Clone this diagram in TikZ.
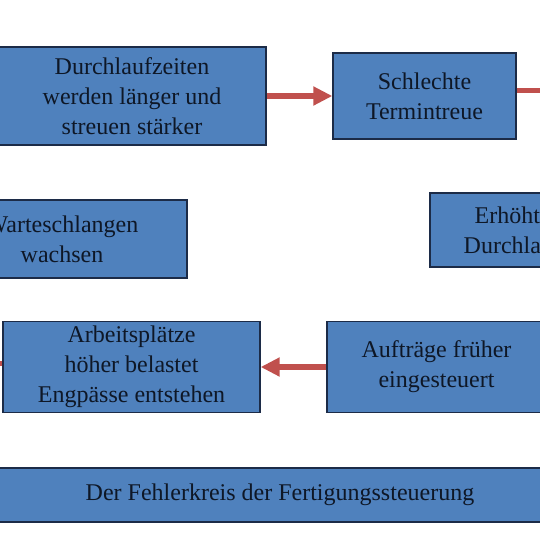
\documentclass[tikz,border=0pt]{standalone}
\usepackage{fontspec}
\setmainfont{Liberation Serif}
\usepackage{tikz}
\usetikzlibrary{arrows.meta}
\definecolor{boxblue}{HTML}{4F81BD}
\definecolor{boxline}{HTML}{1C2B47}
\definecolor{boxtext}{HTML}{0E1726}
\definecolor{flowred}{HTML}{C0504D}

\begin{document}
\begin{tikzpicture}[x=1pt, y=-1pt,
  box/.style={rectangle, draw=boxline, line width=1.3pt, fill=boxblue, text=boxtext,
    inner sep=0pt, align=center, font=\fontsize{24}{30}\selectfont},
  flow/.style={flowred, line width=5.5pt, -{Triangle[length=19pt, width=18pt]}},
  flowline/.style={flowred, line width=5pt}]
\useasboundingbox (0,0) rectangle (540,541);
\clip (0,0) rectangle (540,541);
\node[box, minimum width=268pt, minimum height=98pt] (zeiten) at (132,96) {Durchlaufzeiten\\werden länger und\\streuen stärker};
\node[box, minimum width=183pt, minimum height=86pt] (termin) at (424.5,96) {Schlechte\\Termintreue};
\node[box, minimum width=250pt, minimum height=78pt] (warte) at (62,239) {Warteschlangen\\wachsen};
\node[box, minimum width=222pt, minimum height=74pt] (plan) at (541,230) {Erhöhte Plan-\\Durchlaufzeiten};
\node[box, minimum width=219pt, minimum height=91pt] (frueh) at (436.5,367) {Aufträge früher\\eingesteuert};
\node[box, minimum width=257pt, minimum height=91pt] (last) at (131.5,367) {Arbeitsplätze\\höher belastet\\Engpässe entstehen};
\node[box, minimum width=680pt, minimum height=54pt] (titel) at (280,495) {Der Fehlerkreis der Fertigungssteuerung};
\coordinate (rechts) at (560,90);
\coordinate (links) at (-20,363.5);
\draw[flow] (zeiten) -- (termin);
\draw[flow] (frueh) -- (last);
\draw[flowline] ([yshift=6pt]termin.east) -- (rechts);
\draw[flowline] ([yshift=3.5pt]last.west) -- (links);
\end{tikzpicture}
\end{document}
